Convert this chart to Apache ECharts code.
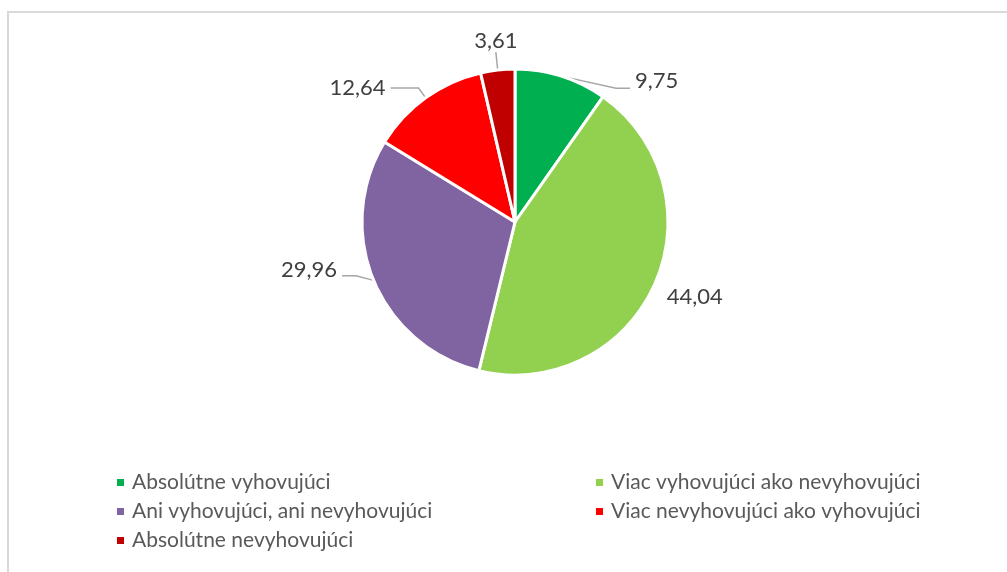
<!DOCTYPE html>
<html>
<head>
<meta charset="utf-8">
<script src="https://cdn.jsdelivr.net/npm/echarts@6/dist/echarts.min.js"></script>
<style>
  html, body { margin: 0; padding: 0; background: #fff; }
  #chart { width: 1007px; height: 572px; }
</style>
</head>
<body>
<div id="chart"></div>
<script>
const categories = [
  'Absolútne vyhovujúci',
  'Viac vyhovujúci ako nevyhovujúci',
  'Ani vyhovujúci, ani nevyhovujúci',
  'Viac nevyhovujúci ako vyhovujúci',
  'Absolútne nevyhovujúci'
]
const values = [9.75, 44.04, 29.96, 12.64, 3.61]
const colors = ['#00b050', '#92d050', '#8064a2', '#ff0000', '#c00000']

const fontFamily = 'Lato, "Open Sans", sans-serif'

// leader line lengths per slice, tuned to look like the excel best-fit labels
const lineLen = [3, 8, 6, 12, 16]
const lineLen2 = [62, 0, 30, 28, 0]
// nudges of the label text: dx, dy, and where the horizontal end of the line sits
const labelShift = [[6, 8, 15], [0, 8, 0], [4, -13, -7], [0, 0, 0], [0, 0, 0]]

const chart = echarts.init(document.getElementById('chart'))

const pieData = categories.map((name, i) => ({
  name: name,
  value: values[i],
  itemStyle: { color: colors[i] },
  labelLine: { show: i !== 1, length: lineLen[i], length2: lineLen2[i] }
}))

const legendBase = {
  orient: 'vertical',
  top: 467,
  icon: 'rect',
  itemWidth: 9,
  itemHeight: 9,
  itemGap: 8,
  selectedMode: false,
  textStyle: { color: '#595959', fontSize: 21, fontFamily: fontFamily, padding: [0, 0, 0, 2] }
}

const option = {
  animation: false,
  graphic: [{
    type: 'rect',
    shape: { x: 8, y: 12, width: 1010, height: 575 },
    style: { fill: 'none', stroke: '#d9d9d9', lineWidth: 2 },
    silent: true
  }],
  legend: [
    Object.assign({}, legendBase, { left: 110, data: [categories[0], categories[2], categories[4]] }),
    Object.assign({}, legendBase, { left: 589, data: [categories[1], categories[3]] })
  ],
  series: [{
    type: 'pie',
    center: [515, 222],
    radius: 153,
    startAngle: 90,
    clockwise: true,
    itemStyle: { borderColor: '#fff', borderWidth: 3 },
    label: {
      show: true,
      position: 'outside',
      color: '#404040',
      fontSize: 22,
      fontFamily: fontFamily,
      formatter: p => p.value.toFixed(2).replace('.', ',')
    },
    labelLine: {
      lineStyle: { color: '#a6a6a6', width: 1.5 }
    },
    labelLayout: function (params) {
      const pts = params.labelLinePoints
      // the small top slice has its label sitting above the leader line
      if (params.dataIndex === 4 && pts) {
        const p = pts[pts.length - 1]
        return { x: p[0], y: p[1] - 2, align: 'center', verticalAlign: 'bottom' }
      }
      const s = labelShift[params.dataIndex]
      if (!pts || (s[0] === 0 && s[1] === 0)) {
        return { dx: s[0], dy: s[1] }
      }
      // bend the leader line so it meets the moved label a bit below its middle
      const p0 = pts[0], p2 = pts[pts.length - 1]
      const dir = p2[0] >= pts[1][0] ? 1 : -1
      const endX = p2[0] + s[0], endY = p2[1] + s[2]
      return {
        dx: s[0],
        dy: s[1],
        labelLinePoints: [p0, [endX - dir * 14, endY], [endX, endY]]
      }
    },
    data: pieData
  }]
}

chart.setOption(option)
</script>
</body>
</html>
